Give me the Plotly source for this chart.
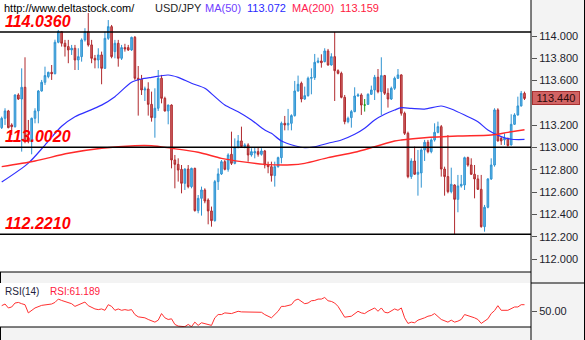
import plotly.graph_objects as go

# ---- USD/JPY daily candles -------------------------------------------------
opens = [
    113.178, 113.262, 113.328, 113.202, 113.187, 113.471, 113.435, 113.540, 113.082, 113.053,
    113.262, 113.328, 113.507, 113.585, 113.636, 113.674, 113.662, 113.944, 114.039, 113.935,
    113.905, 113.875, 113.890, 113.785, 113.815, 113.965, 114.039, 113.920, 113.800, 113.785,
    113.830, 113.710, 113.979, 114.084, 113.860, 113.935, 113.800, 113.896, 113.896, 113.875,
    113.988, 113.621, 113.612, 113.516, 113.525, 113.387, 113.268, 113.352, 113.621, 113.441,
    113.328, 113.381, 112.888, 112.849, 112.804, 112.679, 112.807, 112.649, 112.813, 112.434,
    112.544, 112.619, 112.529, 112.431, 112.344, 112.694, 112.763, 112.873, 112.804, 112.939,
    112.858, 112.999, 113.059, 113.008, 113.023, 112.933, 112.951, 112.963, 112.939, 112.969,
    112.843, 112.828, 112.748, 112.828, 112.909, 113.217, 113.202, 113.217, 113.286, 113.507,
    113.576, 113.435, 113.465, 113.621, 113.627, 113.764, 113.776, 113.770, 113.866, 113.740,
    113.815, 113.689, 113.665, 113.450, 113.232, 113.268, 113.322, 113.462, 113.471, 113.381,
    113.387, 113.477, 113.516, 113.630, 113.501, 113.645, 113.486, 113.435, 113.531, 113.621,
    113.651, 113.307, 113.127, 112.739, 112.879, 112.760, 112.772, 112.978, 113.047, 112.963,
    113.068, 113.136, 113.187, 112.807, 112.739, 112.604, 112.664, 112.535, 112.655, 112.664,
    112.909, 112.843, 112.760, 112.718, 112.625, 112.290, 112.464, 112.718, 112.843, 113.337,
    113.082, 113.068, 113.082, 113.023, 113.208, 113.292, 113.373, 113.486,
]
highs = [
    113.277, 113.352, 113.337, 113.217, 113.477, 113.486, 113.710, 113.809, 113.247, 113.268,
    113.352, 113.516, 113.606, 113.725, 113.680, 113.740, 113.967, 114.054, 114.045, 113.965,
    113.965, 113.920, 113.920, 113.890, 113.979, 114.070, 114.206, 113.965, 113.830, 113.890,
    113.860, 114.039, 114.143, 114.099, 113.965, 113.965, 113.920, 113.930, 113.920, 113.994,
    114.000, 113.731, 113.651, 113.546, 113.585, 113.501, 113.531, 113.695, 113.651, 113.456,
    113.384, 113.387, 112.933, 112.903, 112.843, 112.813, 112.843, 112.819, 112.819, 112.574,
    112.649, 112.634, 112.544, 112.470, 112.709, 112.813, 112.888, 112.888, 112.948, 113.142,
    113.082, 113.112, 113.187, 113.038, 113.038, 112.993, 112.999, 112.999, 112.993, 112.978,
    112.873, 112.873, 112.873, 112.918, 113.232, 113.283, 113.346, 113.298, 113.597, 113.645,
    113.591, 113.546, 113.636, 113.710, 113.839, 113.806, 113.836, 113.890, 113.884, 113.845,
    114.036, 113.701, 113.680, 113.471, 113.277, 113.337, 113.540, 113.486, 113.486, 113.435,
    113.486, 113.555, 113.651, 113.704, 113.809, 113.651, 113.531, 113.546, 113.636, 113.704,
    113.657, 113.322, 113.142, 112.903, 113.008, 112.978, 112.993, 113.068, 113.068, 113.082,
    113.217, 113.232, 113.202, 112.828, 113.112, 112.819, 112.670, 112.754, 112.754, 112.918,
    112.918, 112.903, 112.843, 112.754, 112.754, 112.485, 112.724, 112.903, 113.352, 113.352,
    113.097, 113.127, 113.088, 113.298, 113.307, 113.456, 113.507, 113.501,
]
lows = [
    113.166, 113.202, 113.172, 113.112, 113.178, 113.426, 112.963, 113.038, 113.038, 112.939,
    113.217, 113.217, 113.501, 113.561, 113.621, 113.606, 113.656, 113.935, 113.905, 113.816,
    113.756, 113.830, 113.695, 113.695, 113.770, 113.950, 113.905, 113.756, 113.710, 113.710,
    113.567, 113.704, 113.965, 113.800, 113.800, 113.725, 113.785, 113.860, 113.866, 113.866,
    113.606, 113.286, 113.471, 113.417, 113.286, 113.232, 113.088, 113.328, 113.396, 113.322,
    113.208, 112.813, 112.634, 112.694, 112.589, 112.619, 112.634, 112.634, 112.425, 112.410,
    112.389, 112.500, 112.311, 112.290, 112.335, 112.619, 112.754, 112.795, 112.783, 112.843,
    112.849, 112.993, 112.999, 112.993, 112.873, 112.918, 112.903, 112.918, 112.927, 112.813,
    112.769, 112.694, 112.649, 112.819, 112.858, 113.154, 113.154, 113.154, 113.277, 113.501,
    113.405, 113.426, 113.456, 113.477, 113.606, 113.755, 113.716, 113.764, 113.734, 113.734,
    113.417, 113.656, 113.441, 113.208, 113.217, 113.178, 113.316, 113.456, 113.292, 113.322,
    113.381, 113.471, 113.426, 113.486, 113.292, 113.471, 113.358, 113.426, 113.516, 113.615,
    113.286, 113.112, 112.724, 112.718, 112.754, 112.568, 112.640, 112.879, 112.948, 112.948,
    113.053, 113.127, 112.739, 112.568, 112.589, 112.589, 112.221, 112.419, 112.640, 112.619,
    112.828, 112.754, 112.544, 112.619, 112.281, 112.245, 112.455, 112.709, 112.828, 113.053,
    113.023, 113.023, 113.008, 113.017, 113.202, 113.286, 113.367, 113.426,
]
closes = [
    113.262, 113.328, 113.178, 113.187, 113.471, 113.435, 113.540, 113.053, 113.053, 113.262,
    113.328, 113.507, 113.585, 113.645, 113.674, 113.662, 113.944, 114.039, 113.935, 113.905,
    113.875, 113.890, 113.785, 113.815, 113.965, 114.039, 113.920, 113.800, 113.785, 113.830,
    113.710, 113.979, 114.084, 113.815, 113.935, 113.800, 113.896, 113.884, 113.875, 113.988,
    113.621, 113.606, 113.516, 113.525, 113.387, 113.268, 113.352, 113.621, 113.441, 113.328,
    113.381, 112.888, 112.849, 112.798, 112.679, 112.807, 112.649, 112.813, 112.434, 112.544,
    112.619, 112.520, 112.431, 112.344, 112.694, 112.763, 112.873, 112.804, 112.933, 112.858,
    112.999, 113.059, 113.008, 113.023, 112.933, 112.963, 112.963, 112.939, 112.969, 112.843,
    112.828, 112.748, 112.828, 112.909, 113.217, 113.202, 113.217, 113.286, 113.507, 113.567,
    113.435, 113.465, 113.621, 113.627, 113.764, 113.776, 113.761, 113.866, 113.740, 113.815,
    113.689, 113.665, 113.450, 113.232, 113.262, 113.322, 113.462, 113.471, 113.381, 113.381,
    113.477, 113.516, 113.630, 113.501, 113.645, 113.486, 113.435, 113.531, 113.621, 113.651,
    113.307, 113.127, 112.739, 112.879, 112.760, 112.778, 112.978, 113.047, 112.963, 113.068,
    113.136, 113.187, 112.807, 112.739, 112.604, 112.670, 112.535, 112.655, 112.670, 112.909,
    112.843, 112.760, 112.718, 112.625, 112.290, 112.464, 112.718, 112.843, 113.337, 113.059,
    113.059, 113.082, 113.017, 113.208, 113.292, 113.373, 113.486, 113.440,
]

# ---- moving averages (bar index, value) -------------------------------------
ma50_idx = [0, 8, 13, 18, 22, 27, 30, 34, 39, 42, 45, 50, 53, 57, 61, 64, 67, 71, 75, 79,
            81, 84, 88, 91, 94, 98, 102, 106, 109, 112, 115, 118, 120, 123, 127, 132, 135,
            139, 143, 146, 150, 153, 157]
ma50 = [112.690, 112.860, 113.022, 113.190, 113.276, 113.340, 113.380, 113.456, 113.585,
        113.614, 113.629, 113.650, 113.629, 113.576, 113.531, 113.456, 113.381, 113.321,
        113.247, 113.157, 113.127, 113.058, 113.016, 112.998, 113.007, 113.038, 113.067,
        113.118, 113.172, 113.247, 113.298, 113.336, 113.357, 113.351, 113.345, 113.372,
        113.345, 113.291, 113.231, 113.157, 113.097, 113.074, 113.072]

ma200_idx = [0, 10, 20, 30, 40, 45, 51, 59, 66, 72, 79, 87, 91, 98, 106, 112, 118, 120,
             127, 137, 147, 152, 157]
ma200 = [112.828, 112.879, 112.948, 112.993, 113.016, 113.016, 112.993, 112.957, 112.903,
         112.873, 112.849, 112.845, 112.858, 112.909, 112.957, 113.007, 113.058, 113.067,
         113.088, 113.103, 113.112, 113.136, 113.159]

# ---- RSI(14) (bar index, value) ---------------------------------------------
rsi_idx = [0, 1, 2, 3, 4, 5, 6, 7, 8, 9, 10, 12, 14, 15, 16, 17, 18, 20, 21, 22, 24, 25,
           26, 28, 29, 30, 31, 32, 33, 34, 35, 36, 37, 38, 39, 40, 41, 43, 44, 46, 47, 48,
           49, 50, 51, 52, 53, 55, 56, 57, 58, 59, 60, 61, 62, 63, 64, 65, 66, 67, 69, 70,
           71, 72, 74, 75, 77, 78, 79, 81, 83, 84, 85, 87, 88, 89, 91, 92, 93, 94, 95, 96,
           97, 98, 99, 100, 101, 102, 103, 105, 106, 107, 108, 109, 110, 111, 112, 113, 114,
           115, 116, 118, 119, 120, 121, 122, 123, 124, 125, 127, 128, 129, 130, 132, 133,
           134, 135, 136, 137, 138, 139, 140, 141, 142, 143, 144, 146, 147, 148, 149, 150,
           151, 152, 154, 155, 156, 157]
rsi = [59.6, 62.3, 55.9, 57.5, 63.9, 64.9, 62.8, 61.2, 47.9, 51.6, 55.9, 60.1, 62.3, 62.3,
       64.9, 70.3, 68.1, 64.9, 62.8, 58.5, 62.3, 65.5, 59.6, 54.3, 53.2, 54.3, 52.1, 61.2,
       58.5, 52.1, 54.3, 52.1, 53.2, 52.1, 53.2, 45.2, 41.5, 39.9, 37.2, 32.9, 36.1, 46.8,
       39.9, 37.2, 38.3, 29.2, 26.5, 25.5, 29.2, 25.5, 32.9, 27.6, 31.9, 30.8, 29.2, 27.6,
       39.9, 45.2, 45.2, 47.9, 46.8, 48.9, 50.5, 49.5, 48.9, 48.9, 48.9, 48.9, 45.2, 39.9,
       50.5, 58.5, 58.5, 61.2, 68.1, 70.3, 62.8, 63.9, 67.6, 68.1, 70.3, 70.3, 72.9, 67.6,
       66.5, 63.9, 58.5, 50.5, 40.9, 42.5, 46.8, 50.5, 47.9, 46.8, 50.5, 53.2, 55.9, 50.5,
       55.9, 48.9, 47.9, 54.3, 52.1, 55.9, 39.9, 30.8, 32.9, 31.9, 36.1, 39.9, 42.5, 43.6,
       46.8, 37.2, 34.5, 32.9, 36.1, 32.9, 34.5, 37.2, 45.2, 43.6, 41.5, 39.9, 37.2, 30.8,
       38.3, 46.8, 51.6, 59.6, 52.1, 52.1, 52.1, 57.5, 57.5, 61.2, 61.189]

# ---- reference levels and header values --------------------------------------
levels = [114.0360, 113.0020, 112.2210]
level_labels = ["114.0360", "113.0020", "112.2210"]
price_ticks = [114.0, 113.8, 113.6, 113.4, 113.2, 113.0, 112.8, 112.6, 112.4, 112.2, 112.0]
last_price = closes[-1]
ma50_last = 113.072
ma200_last = 113.159
rsi_last = 61.189

# ---- geometry (pixels) -------------------------------------------------------
W, H = 585, 340
AXIS_X = 531          # left edge of the price-scale column
MAIN_BOTTOM = 272
RSI_TOP, RSI_BOTTOM = 283, 327
PX_PER_YEN = 111.5
Y_AT_114 = 36


def fx(px):
    return px / W


def fy(py):
    return 1 - py / H


FONT = "Liberation Sans, Arial, sans-serif"
bars = list(range(len(closes)))
x_range = [-0.51, 158.95]
y_range = [114 - (MAIN_BOTTOM - Y_AT_114) / PX_PER_YEN, 114 + Y_AT_114 / PX_PER_YEN]

regular = [i for i in bars if opens[i] != closes[i]]
doji = [i for i in bars if opens[i] == closes[i]]

fig = go.Figure()
fig.add_trace(go.Candlestick(
    x=regular,
    open=[opens[i] for i in regular], high=[highs[i] for i in regular],
    low=[lows[i] for i in regular], close=[closes[i] for i in regular],
    increasing=dict(line=dict(color="#2f93d1", width=1), fillcolor="#5fb5e8"),
    decreasing=dict(line=dict(color="#b02a2e", width=1), fillcolor="#cf6767"),
    whiskerwidth=0, hoverinfo="skip",
))
fig.add_trace(go.Candlestick(
    x=doji,
    open=[opens[i] for i in doji], high=[highs[i] for i in doji],
    low=[lows[i] for i in doji], close=[closes[i] for i in doji],
    increasing=dict(line=dict(color="#1a9a1a", width=1), fillcolor="#1a9a1a"),
    decreasing=dict(line=dict(color="#1a9a1a", width=1), fillcolor="#1a9a1a"),
    whiskerwidth=0, hoverinfo="skip",
))
fig.add_trace(go.Scatter(x=ma50_idx, y=ma50, mode="lines",
                         line=dict(color="#3030ff", width=1.2, shape="spline", smoothing=0.8)))
fig.add_trace(go.Scatter(x=ma200_idx, y=ma200, mode="lines",
                         line=dict(color="#ff2a2a", width=1.4, shape="spline", smoothing=0.8)))
fig.add_trace(go.Scatter(x=rsi_idx, y=rsi, mode="lines", xaxis="x2", yaxis="y2",
                         line=dict(color="#ff3030", width=1)))

shapes = []
# support / resistance levels
for lv in levels:
    shapes.append(dict(type="line", xref="paper", yref="y", x0=0, x1=fx(AXIS_X),
                       y0=lv, y1=lv, line=dict(color="black", width=1.5)))
# panel frames
frame = dict(color="black", width=1)
shapes += [
    dict(type="line", xref="paper", yref="paper", x0=0, x1=fx(AXIS_X),
         y0=fy(MAIN_BOTTOM), y1=fy(MAIN_BOTTOM), line=frame),
    dict(type="line", xref="paper", yref="paper", x0=0, x1=fx(AXIS_X),
         y0=fy(RSI_BOTTOM), y1=fy(RSI_BOTTOM), line=frame),
    dict(type="line", xref="paper", yref="paper", x0=fx(AXIS_X), x1=fx(AXIS_X),
         y0=0, y1=1, line=frame),
    dict(type="line", xref="paper", yref="paper", x0=fx(584.5), x1=fx(584.5),
         y0=0, y1=1, line=frame),
    dict(type="line", xref="paper", yref="paper", x0=fx(AXIS_X), x1=1,
         y0=fy(RSI_TOP), y1=fy(RSI_TOP), line=frame),
    dict(type="line", xref="paper", yref="paper", x0=fx(0.5), x1=fx(0.5),
         y0=fy(RSI_TOP), y1=fy(MAIN_BOTTOM), line=frame),
    dict(type="line", xref="paper", yref="paper", x0=fx(0.5), x1=fx(0.5),
         y0=0, y1=fy(RSI_BOTTOM), line=frame),
]

annotations = []
for lv, txt in zip(levels, level_labels):
    annotations.append(dict(
        x=fx(3), xref="paper", y=lv, yref="y", xanchor="left", yanchor="bottom",
        text=f"<b><i>{txt}</i></b>", showarrow=False, yshift=0,
        font=dict(family=FONT, size=16, color="#ff0000")))

header = [
    (2, "http://www.deltastock.com/", "#000000"),
    (153, "USD/JPY", "#1e1e1e"),
    (203, "MA(50)", "#7040ff"),
    (245, f"{ma50_last:.3f}", "#2a2aff"),
    (290, "MA(200)", "#ff2050"),
    (338, f"{ma200_last:.3f}", "#ff2040"),
]
for px, txt, col in header:
    annotations.append(dict(
        x=fx(px), xref="paper", y=fy(8), yref="paper", xanchor="left", yanchor="middle",
        text=txt, showarrow=False, font=dict(family=FONT, size=11, color=col)))

annotations.append(dict(
    x=fx(3), xref="paper", y=fy(291), yref="paper", xanchor="left", yanchor="middle",
    text="RSI(14)", showarrow=False, font=dict(family=FONT, size=10, color="#1e1e3c")))
annotations.append(dict(
    x=fx(48), xref="paper", y=fy(291), yref="paper", xanchor="left", yanchor="middle",
    text=f"RSI:{rsi_last:.3f}", showarrow=False, font=dict(family=FONT, size=10, color="#ff2040")))

# last-price marker on the price scale (it sits over the 113.400 tick label)
annotations.append(dict(
    x=fx(AXIS_X + 0.5), xref="paper", y=last_price, yref="y", xanchor="left", yanchor="middle",
    text=f"{last_price:.3f}", showarrow=False, width=46, height=12, align="center",
    bgcolor="#d26464", bordercolor="#a83030", borderwidth=1, borderpad=0,
    font=dict(family=FONT, size=11, color="#2a0a0a")))

tick_text = ["" if abs(v - last_price) < 0.1 else f"{v:.3f}" for v in price_ticks]

fig.update_layout(
    width=W, height=H, margin=dict(l=0, r=0, t=0, b=0),
    paper_bgcolor="#f3f3f3", plot_bgcolor="#ffffff", showlegend=False,
    boxgap=0.3,
    xaxis=dict(domain=[0, fx(AXIS_X)], range=x_range, visible=False,
               rangeslider=dict(visible=False), anchor="y"),
    yaxis=dict(domain=[fy(MAIN_BOTTOM), 1], range=y_range, side="right", anchor="x",
               tickvals=price_ticks, ticktext=tick_text,
               ticks="outside", ticklen=5, tickcolor="#555555", showgrid=False,
               zeroline=False, showline=False,
               tickfont=dict(family=FONT, size=11, color="#1c1c2c")),
    xaxis2=dict(domain=[0, fx(AXIS_X)], range=x_range, visible=False, anchor="y2"),
    yaxis2=dict(domain=[fy(RSI_BOTTOM), fy(RSI_TOP)], range=[25, 96.4], side="right",
                anchor="x2", tickvals=[50], ticktext=["50.00"], ticks="outside",
                ticklen=5, tickcolor="#555555", showgrid=False, zeroline=False,
                tickfont=dict(family=FONT, size=11, color="#1c1c2c")),
    shapes=shapes, annotations=annotations,
)

fig.write_html("out.html")
